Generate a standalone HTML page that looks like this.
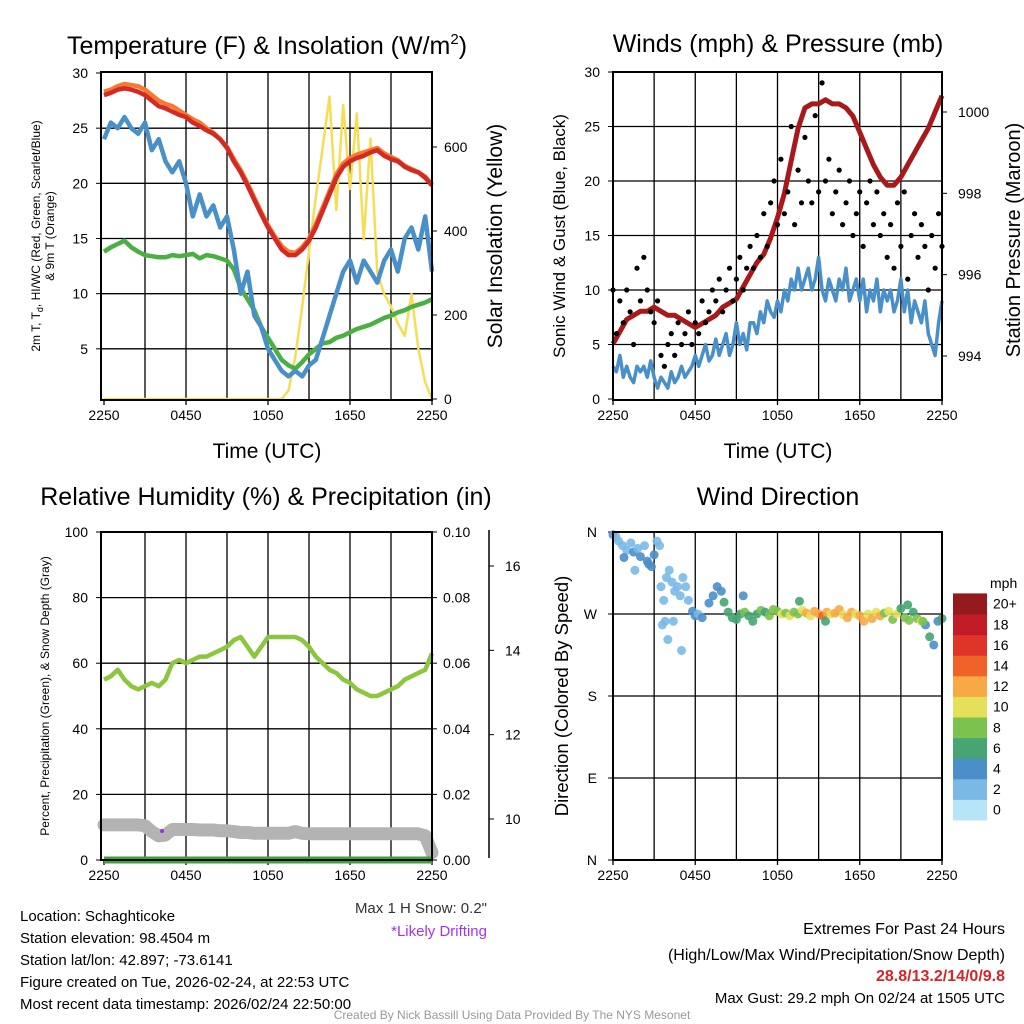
<!DOCTYPE html>
<html><head><meta charset="utf-8"><style>
html,body{margin:0;padding:0;background:#fff}
svg{display:block;font-family:"Liberation Sans",sans-serif}
</style></head><body>
<svg id="c" width="1024" height="1024" viewBox="0 0 1024 1024"></svg>
<script>
// ---------- data (0.5 h step from 2250 UTC) ----------
const xTicks=["2250","0450","1050","1650","2250"];
const tempRed=[28,28.2,28.5,28.6,28.5,28.3,28.0,27.5,27.0,26.8,26.5,26.2,26.0,25.5,25.2,24.8,24.5,24.0,23.2,22.0,21.0,19.8,18.5,17.2,16.0,15.0,14.0,13.5,13.5,14.0,14.8,16.0,17.5,19.0,20.5,21.5,22.0,22.3,22.5,22.8,23.0,22.5,22.2,22.0,21.5,21.2,21.0,20.5,19.8];
const temp9m=[28.3,28.5,28.8,29.0,28.9,28.8,28.5,28.0,27.5,27.2,27.0,26.6,26.2,25.8,25.5,25.0,24.6,24.0,23.3,22.2,21.2,20.0,18.7,17.4,16.2,15.2,14.3,13.8,13.7,14.2,15.0,16.3,17.8,19.3,20.8,21.8,22.3,22.6,22.8,23.0,23.2,22.7,22.4,22.1,21.6,21.3,21.0,20.6,19.9];
const dewpoint=[13.8,14.2,14.5,14.8,14.2,13.8,13.5,13.4,13.3,13.3,13.5,13.4,13.5,13.6,13.2,13.5,13.4,13.2,13.0,12.2,10.5,9.5,8.5,7.0,6.0,5.0,4.0,3.5,3.2,3.8,4.5,5.0,5.5,5.6,6.0,6.2,6.5,6.8,7.0,7.2,7.5,7.8,8.0,8.3,8.5,8.8,9.0,9.2,9.5];
const windChill=[24,25.5,25,26,25,24.5,25.5,23,24,22,21,22,20,17,19,17,18,16,17,14,10,12,8,7,5,4,3,2.5,3,2.5,3.5,4,6,8,10,12,13,11,13,12,11,13,14,12,15,16,14,17,12];
const solar=[0,0,0,0,0,0,0,0,0,0,0,0,0,0,0,0,0,0,0,0,0,0,0,0,0,0,0,20,100,220,350,480,600,720,450,700,500,680,380,620,300,250,220,180,150,250,120,40,0];
const pressure=[994.3,994.6,994.9,995.0,995.1,995.1,995.2,995.1,995.0,995.0,994.9,994.8,994.7,994.8,994.9,995.0,995.2,995.3,995.4,995.7,996.0,996.3,996.5,996.9,997.4,998.0,998.8,999.6,1000.1,1000.2,1000.2,1000.3,1000.2,1000.2,1000.1,999.9,999.5,999.1,998.7,998.4,998.2,998.2,998.4,998.7,999.0,999.3,999.6,1000.0,1000.4];
// 0.25 h step
const windSpeed=[3,2.5,4,2,3,2,1.5,3,2.5, 3,2,3.5,2,1,2,1.5,1, 2.5,1.5,2,3,2,2.5,3,4, 3,4,5,3.5,4,5.5,4,5, 6,4,5,7,5,6,4.5,7, 7,6,8,7,9,8,7.5,9, 8,10,9,11,10,12,10,11, 12,10,11,13,10,9,11,10, 9,11,10,12,9,10,11,9, 11,8,10,9,11,8,10,9, 10,8,9,11,8,10,7,9, 8,7,9,6,5,4,7,9];
const windGust=[10,6,9,7,10,8,5,12,9, 13,10,8,7,9,4,3,5, 6,4,7,5,6,8,5,7, 6,9,7,8,10,9,11,8, 10,12,9,11,13,10,12,14, 12,15,13,17,14,18,20,16, 22,17,19,25,16,21,18,24, 20,18,26,19,29,20,22,17, 19,21,16,18,20,15,17,19, 14,18,20,16,19,15,17,13, 16,12,18,14,19,11,15,17, 13,16,14,10,15,12,17,14];
const rh=[55,56,58,55,53,52,53,54,53,55,60,61,60,61,62,62,63,64,65,67,68,65,62,65,68,68,68,68,68,67,65,62,60,58,57,55,54,52,51,50,50,51,52,53,55,56,57,58,63];
const precip=[0,0,0,0,0,0,0,0,0,0,0,0,0,0,0,0,0,0,0,0,0,0,0,0,0,0,0,0,0,0,0,0,0,0,0,0,0,0,0,0,0,0,0,0,0,0,0,0,0];
const snowDepth=[9.86,9.86,9.86,9.86,9.86,9.86,9.84,9.7,9.6,9.62,9.75,9.75,9.75,9.75,9.74,9.74,9.74,9.72,9.72,9.7,9.68,9.68,9.66,9.66,9.66,9.66,9.66,9.66,9.7,9.66,9.65,9.65,9.65,9.65,9.65,9.65,9.65,9.65,9.65,9.65,9.65,9.65,9.65,9.65,9.65,9.65,9.65,9.6,9.2];
// wind direction scatter (hour, degrees, mph)
const dirHour=[0,0.2,0.4,0.7,1.0,1.3,1.5,1.8,2.0,2.3,2.5,2.8,3.0,3.2,3.4,0.8,1.6,2.6,3.5,3.7,3.9,4.1,4.3,4.5,4.7,4.9,5.1,5.3,5.5,3.6,3.8,4.0,4.4,5.0,5.8,6.0,6.2,6.5,7.0,7.3,7.6,7.9,8.1,8.4,8.7,9.0,9.3,9.6,9.9,10.2,10.5,10.8,11.1,11.4,11.7,12.0,12.3,12.6,12.9,13.2,13.5,13.8,14.1,14.4,14.7,15.0,15.3,15.6,15.9,16.2,16.5,16.8,17.1,17.4,17.7,18.0,18.3,18.6,18.9,19.2,19.5,19.8,20.1,20.4,20.7,21.0,21.3,21.6,21.9,22.2,22.5,22.8,23.1,23.4,23.7,24.0,9.5,13.6,15.5,21.5,22.6];
const dirDeg=[357,355,350,345,340,348,338,342,333,345,328,322,335,350,345,332,318,325,300,285,310,318,305,295,300,290,310,300,285,258,262,242,262,230,273,268,270,266,282,290,300,295,283,272,266,264,270,272,268,262,270,274,272,268,275,273,270,271,268,272,270,274,271,268,273,270,268,272,270,271,275,269,266,272,270,268,262,270,265,272,268,271,273,264,270,276,266,263,272,265,262,258,245,236,262,265,290,284,262,280,262];
const dirSpeed=[3,2,2,2,2,2,3,2,4,2,4,4,3,2,2,4,2,3,1,2,2,2,2,2,2,2,2,2,2,1,2,1,1,1,4,4,2,4,3,4,4,4,6,6,6,6,6,8,6,6,5,8,6,8,8,8,10,8,10,8,8,10,12,10,12,12,13,12,10,12,12,10,12,12,10,12,12,10,12,10,12,8,10,8,10,6,8,8,6,8,10,4,6,4,4,6,4,6,6,6,8];
const cbLabels=["0","2","4","6","8","10","12","14","16","18","20+"];
const cbColors=["#b8e4f8","#7ab9e5","#4a8fc8","#46a573","#7bc24f","#e5e05a","#f8a845","#f16228","#e03428","#c01b26","#951a1d"];

// ---------- helpers ----------
const svg=document.getElementById('c');
const NS="http://www.w3.org/2000/svg";
function mk(tag,attrs,parent){const e=document.createElementNS(NS,tag);for(const k in attrs)e.setAttribute(k,attrs[k]);(parent||svg).appendChild(e);return e;}
function txt(s,x,y,size,anchor,extra,parent){const t=mk('text',Object.assign({x:x,y:y,'font-size':size,'text-anchor':anchor||'middle',fill:'#000'},extra||{}),parent);t.textContent=s;return t;}
function lin(d0,d1,p0,p1){return v=>p0+(v-d0)*(p1-p0)/(d1-d0);}
function linePath(arr,xs,ys){const st=24/(arr.length-1);return arr.map((v,i)=>(i?'L':'M')+xs(i*st).toFixed(1)+','+ys(v).toFixed(1)).join('');}

function frame(name,L,T,R,B,xs){
  const g=mk('g',{});
  
  
  for(let h=3;h<24;h+=3){mk('line',{x1:xs(h),x2:xs(h),y1:T,y2:B,stroke:'#000','stroke-width':1.3},g);}
  xTicks.forEach((s,i)=>{const x=xs(i*6);mk('line',{x1:x,x2:x,y1:B,y2:B+5,stroke:'#000','stroke-width':1.3},g);txt(s,x,B+20,14,'middle',{},g);});
  return g;
}
function border(L,T,R,B){mk('rect',{x:L,y:T,width:R-L,height:B-T,fill:'none',stroke:'#000','stroke-width':2});}

// ================= Panel 1 =================
{
const L=101,T=72,R=432,B=400;
const xs=lin(0,24,104,432), ys=lin(0,30,404,73), ysR=lin(0,200,399,315);
const g=frame('temperature-panel',L,T,R,B,xs);
[5,10,15,20,25].forEach(v=>mk('line',{x1:L,x2:R,y1:ys(v),y2:ys(v),stroke:'#000','stroke-width':1.3},g));
[5,10,15,20,25,30].forEach(v=>{mk('line',{x1:L-5,x2:L,y1:ys(v),y2:ys(v),stroke:'#000'});txt(String(v),L-13,ys(v)+5,14,'end');});
[0,200,400,600].forEach(v=>{mk('line',{x1:R,x2:R+5,y1:ysR(v),y2:ysR(v),stroke:'#000'});txt(String(v),R+12,ysR(v)+5,14,'start');});
const p=[[solar,'#f5dd55',ysR,'solar-insolation-line',2.5],[dewpoint,'#4bb043',ys,'dewpoint-line',4.5],[windChill,'#4a90c8',ys,'wind-chill-line',4.5],[temp9m,'#f57a30',ys,'temp-9m-line',4.5],[tempRed,'#d42a25',ys,'temp-2m-line',4.5]];
p.forEach(a=>{const e=mk('path',{d:linePath(a[0],xs,a[2]),fill:'none',stroke:a[1],'stroke-width':a[4],'stroke-linejoin':'round'});

});
border(L,T,R,B);
const t=txt('',267,54,25);t.innerHTML='Temperature (F) &amp; Insolation (W/m<tspan dy="-10" font-size="15">2</tspan><tspan dy="10">)</tspan>';

txt('Time (UTC)',267,458,21);
const a=txt('',0,0,12,'middle',{transform:'translate(40,236) rotate(-90)'});a.innerHTML='2m T, T<tspan dy="3" font-size="9">d</tspan><tspan dy="-3">, HI/WC (Red, Green, Scarlet/Blue)</tspan>';
txt('& 9m T (Orange)',0,0,12,'middle',{transform:'translate(54,236) rotate(-90)'});
txt('Solar Insolation (Yellow)',0,0,21,'middle',{transform:'translate(502,236) rotate(-90)'});
}

// ================= Panel 2 =================
{
const L=613,T=72,R=942,B=400;
const xs=lin(0,24,613,942), ys=lin(0,30,399,72), ysP=lin(994,1000,356,112);
const g=frame('winds-panel',L,T,R,B,xs);
[5,10,15,20,25].forEach(v=>mk('line',{x1:L,x2:R,y1:ys(v),y2:ys(v),stroke:'#000','stroke-width':1.3},g));
[0,5,10,15,20,25,30].forEach(v=>{mk('line',{x1:L-5,x2:L,y1:ys(v),y2:ys(v),stroke:'#000'});txt(String(v),L-13,ys(v)+5,14,'end');});
[994,996,998,1000].forEach(v=>{mk('line',{x1:R,x2:R+5,y1:ysP(v),y2:ysP(v),stroke:'#000'});txt(String(v),R+16,ysP(v)+5,14,'start');});
const w=mk('path',{d:linePath(windSpeed,xs,ys),fill:'none',stroke:'#4a90c8','stroke-width':3.5,'stroke-linejoin':'round'});


const pr=mk('path',{d:linePath(pressure,xs,ysP),fill:'none',stroke:'#a8191c','stroke-width':5,'stroke-linejoin':'round'});


const st=24/(windGust.length-1);
windGust.forEach((v,i)=>{const c=mk('circle',{cx:xs(i*st),cy:ys(v),r:2.6,fill:'#000'});

});
border(L,T,R,B);
txt('Winds (mph) & Pressure (mb)',778,52,25);
txt('Time (UTC)',778,458,21);
txt('Sonic Wind & Gust (Blue, Black)',0,0,17,'middle',{transform:'translate(565,236) rotate(-90)'});
txt('Station Pressure (Maroon)',0,0,20,'middle',{transform:'translate(1020,240) rotate(-90)'});
}

// ================= Panel 3 =================
{
const L=101,T=532,R=432,B=860;
const xs=lin(0,24,104,432), ys=lin(0,100,860,532), ysR=lin(0,0.1,860,532), ysS=lin(10,16,819,566);
const g=frame('humidity-panel',L,T,R,B,xs);
[20,40,60,80].forEach(v=>mk('line',{x1:L,x2:R,y1:ys(v),y2:ys(v),stroke:'#000','stroke-width':1.3},g));
[0,20,40,60,80,100].forEach(v=>{mk('line',{x1:L-5,x2:L,y1:ys(v),y2:ys(v),stroke:'#000'});txt(String(v),L-13,ys(v)+5,14,'end');});
[0,0.02,0.04,0.06,0.08,0.1].forEach(v=>{mk('line',{x1:R,x2:R+5,y1:ysR(v),y2:ysR(v),stroke:'#000'});txt(v.toFixed(2),R+11,ysR(v)+5,14,'start');});
mk('line',{x1:489,x2:489,y1:530,y2:858,stroke:'#000','stroke-width':1.5});
[10,12,14,16].forEach(v=>{mk('line',{x1:489,x2:494,y1:ysS(v),y2:ysS(v),stroke:'#000'});txt(String(v),505,ysS(v)+5,14,'start');});
const sd=mk('path',{d:linePath(snowDepth,xs,ysS),fill:'none',stroke:'#b3b3b3','stroke-width':13,'stroke-linejoin':'round','stroke-linecap':'round'});


const pc=mk('path',{d:linePath(precip,xs,ysR),fill:'none',stroke:'#3fa33a','stroke-width':7});


const rl=mk('path',{d:linePath(rh,xs,ys),fill:'none',stroke:'#8cc63f','stroke-width':4.5,'stroke-linejoin':'round'});


const dd=mk('circle',{cx:162,cy:831,r:2,fill:'#9b30e0'});


border(L,T,R,B);
txt('Relative Humidity (%) & Precipitation (in)',266,505,25);
txt('Percent, Precipitation (Green), & Snow Depth (Gray)',0,0,12,'middle',{transform:'translate(49,696) rotate(-90)'});
}

// ================= Panel 4 =================
{
const L=613,T=532,R=942,B=860;
const xs=lin(0,24,613,942), ys=lin(0,360,860,532);
const g=frame('wind-direction-panel',L,T,R,B,xs);
[90,180,270].forEach(v=>mk('line',{x1:L,x2:R,y1:ys(v),y2:ys(v),stroke:'#000','stroke-width':1.3},g));
[['N',0],['E',90],['S',180],['W',270],['N',360]].forEach(a=>{mk('line',{x1:L-5,x2:L,y1:ys(a[1]),y2:ys(a[1]),stroke:'#000'});txt(a[0],L-16,ys(a[1])+5,14,'end');});
function col(s){let i=Math.round(s/2);if(i>10)i=10;if(i<0)i=0;return cbColors[i];}
dirHour.forEach((h,i)=>{const c=mk('circle',{cx:xs(h),cy:ys(dirDeg[i]),r:4.5,fill:col(dirSpeed[i]),'fill-opacity':0.9});

});
border(L,T,R,B);
txt('Wind Direction',778,505,25);
txt('Direction (Colored By Speed)',0,0,18.5,'middle',{transform:'translate(568,696) rotate(-90)'});
const cb=mk('g',{});


const h=20.6;
cbColors.forEach((c,i)=>{const y=820-(i+1)*h;mk('rect',{x:953,y:y,width:34,height:h+0.5,fill:c},cb);txt(cbLabels[i],993,y+h/2+5,14,'start',{},cb);});
txt('mph',990,588,14,'start');
}

// ================= Footer text =================
const info=["Location: Schaghticoke","Station elevation: 98.4504 m","Station lat/lon: 42.897; -73.6141","Figure created on Tue, 2026-02-24, at 22:53 UTC","Most recent data timestamp: 2026/02/24 22:50:00"];
info.forEach((s,i)=>txt(s,20,921+i*22,15,'start'));
txt('Max 1 H Snow: 0.2"',487,913,15,'end',{fill:'#333'});
txt('*Likely Drifting',487,936,15,'end',{fill:'#a335e8'});
txt('Extremes For Past 24 Hours',1005,934,16,'end');
txt('(High/Low/Max Wind/Precipitation/Snow Depth)',1005,960,16,'end');
txt('28.8/13.2/14/0/9.8',1005,981,16,'end',{fill:'#d3262a','font-weight':'bold'});
txt('Max Gust: 29.2 mph On 02/24 at 1505 UTC',1005,1003,15,'end');
txt('Created By Nick Bassill Using Data Provided By The NYS Mesonet',512,1019,12,'middle',{fill:'#999'});
</script>
</body></html>
